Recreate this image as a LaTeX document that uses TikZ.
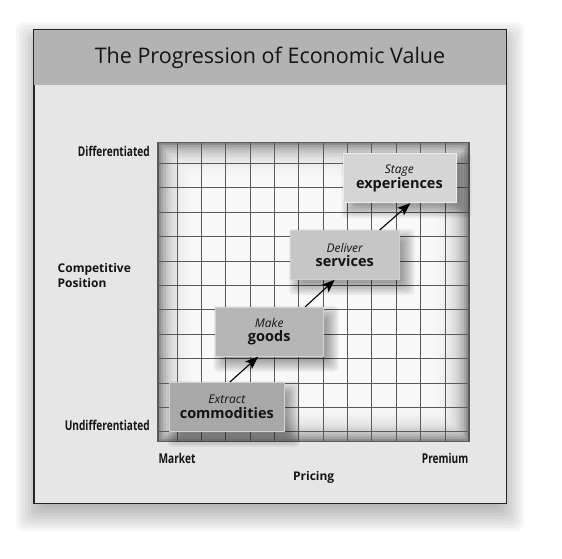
\documentclass[tikz,border=0pt]{standalone}
\usepackage{fontspec}
\setmainfont{Open Sans}
\newfontfamily\narrowfont[FakeStretch=0.75]{Open Sans}
\usepackage{xcolor}
\definecolor{panelgray}{HTML}{E6E6E6}
\definecolor{titlegray}{HTML}{B3B3B3}
\definecolor{gridline}{HTML}{5A5A5A}
\definecolor{edgegray}{HTML}{8C8C8C}
\definecolor{commfill}{HTML}{A8A8A8}
\definecolor{goodsfill}{HTML}{B6B6B6}
\definecolor{servfill}{HTML}{C6C6C6}
\definecolor{expfill}{HTML}{D6D6D6}
\definecolor{ink}{HTML}{141414}
\usetikzlibrary{arrows.meta}
\pgfdeclarelayer{bg}
\pgfdeclarelayer{shade}
\pgfsetlayers{bg,shade,main}
\newcommand{\stagetext}[2]{{\itshape #1}\\{\fontsize{14.5}{14.5}\selectfont\bfseries #2}}

\begin{document}
\begin{tikzpicture}[
  x=1pt, y=-1pt,
  stage/.style={
    rectangle, draw=white!65!gray, line width=0.8pt, align=center,
    minimum width=112pt, minimum height=49pt, inner sep=2pt, text=ink,
    font=\fontsize{12}{14.5}\selectfont
  },
  axislabel/.style={font=\narrowfont\fontsize{13.5}{15}\selectfont\bfseries, text=ink, inner sep=0pt},
  axistitle/.style={font=\fontsize{12}{14.5}\selectfont\bfseries, text=ink, inner sep=0pt, align=left},
  arr/.style={-{Stealth[length=13pt,width=10pt,inset=3pt]}, line width=1.1pt}
]
\useasboundingbox (0,0) rectangle (562,559);

\begin{pgfonlayer}{bg}
% Panel shadow
\foreach \e in {-6,-3,...,18}
  \fill[black, opacity=0.035, rounded corners=8pt] ({34-\e},{40-\e}) rectangle ({506+\e},{513+\e});
% Panel and title bar
\node[draw=black!85, fill=panelgray, minimum width=472pt, minimum height=473pt, inner sep=0pt] (panel) at (270,266.5) {};
\fill[titlegray] (panel.north west) rectangle ([yshift=-55pt]panel.north east);
\draw[black!85, line width=0.8pt] (panel.north west) rectangle (panel.south east);

% Grid with shaded edges
\fill[edgegray] (158,142.5) rectangle (469,441.5);
\foreach \i in {1,...,14}
  \fill[white, opacity=0.22, rounded corners=2pt] ({158+2.6*\i},{142.5+2.6*\i}) rectangle ({469-2.6*\i},{441.5-2.6*\i});
\foreach \k in {0,...,11} {
  \draw[gridline, line width=0.8pt] ({177+24.36*\k},142.5) -- ({177+24.36*\k},441.5);
  \draw[gridline, line width=0.8pt] (158,{163.3+24.4*\k}) -- (469,{163.3+24.4*\k});
}
\draw[gridline, line width=1.2pt] (158,142.5) rectangle (469,441.5);
\end{pgfonlayer}

\node[font=\fontsize{21.5}{24}\selectfont, text=ink] (title) at (270,58) {The Progression of Economic Value};

% Stages
\node[stage, fill=commfill, minimum width=115pt] (comm) at (226.8,407) {\stagetext{Extract}{commodities}};
\node[stage, fill=goodsfill, minimum width=108pt] (goods) at (269.2,331.7) {\stagetext{Make}{goods}};
\node[stage, fill=servfill, minimum width=109pt] (serv) at (344.7,254.9) {\stagetext{Deliver}{services}};
\node[stage, fill=expfill, draw=white!85!gray, minimum width=113pt] (exp) at (399.4,178.2) {\stagetext{Stage}{experiences}};

% Stage shadows
\begin{pgfonlayer}{shade}
\foreach \n in {comm,goods,serv,exp}
  \foreach \e in {-4,-2,...,8}
    \fill[black, opacity=0.06, rounded corners=4pt] ([shift={(7-\e,7-\e)}]\n.north west) rectangle ([shift={(7+\e,7+\e)}]\n.south east);
\end{pgfonlayer}

% Arrows
\foreach \a/\sa/\b/\sb in {comm/3/goods/-11, goods/36/serv/-10, serv/35/exp/11}
  \draw[arr] ([xshift=\sa pt]\a.north) -- ([xshift=\sb pt]\b.south);

% Axis labels
\node[axislabel, anchor=east] (diff) at (150,151) {Differentiated};
\node[axislabel, anchor=east] (undiff) at (150,425.5) {Undifferentiated};
\node[axistitle, anchor=west] (comp) at (57.5,275.5) {Competitive\\Position};
\node[axislabel, anchor=west] (market) at (158.5,458) {Market};
\node[axislabel, anchor=east] (premium) at (468.5,458) {Premium};
\node[axistitle] (pricing) at (313.7,477.7) {Pricing};
\end{tikzpicture}
\end{document}
